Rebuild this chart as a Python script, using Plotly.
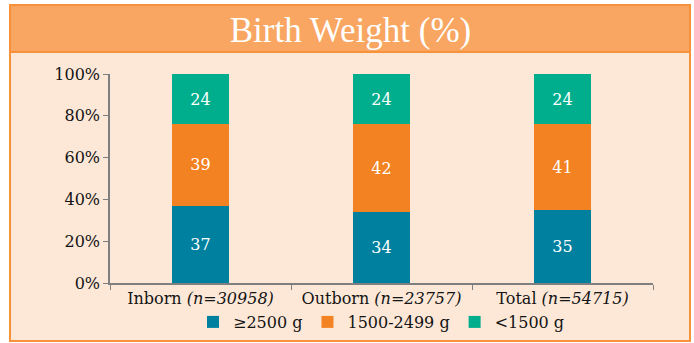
import plotly.graph_objects as go

# Birth weight distribution by place of birth (percent of babies)
categories = ["Inborn <i>(n=30958)</i>", "Outborn <i>(n=23757)</i>", "Total <i>(n=54715)</i>"]
series_names = ["≥2500 g", "1500-2499 g", "<1500 g"]
pct_ge2500 = [37, 34, 35]
pct_1500_2499 = [39, 42, 41]
pct_lt1500 = [24, 24, 24]
y_ticks = [0, 20, 40, 60, 80, 100]
y_tick_labels = ["0%", "20%", "40%", "60%", "80%", "100%"]

colors = ["#00809F", "#F38222", "#00AE8E"]
FONT = "DejaVu Serif"
TITLE_FONT = "Liberation Serif"

W, H = 694, 343

fig = go.Figure()
for name, vals, col in zip(series_names, [pct_ge2500, pct_1500_2499, pct_lt1500], colors):
    fig.add_trace(go.Bar(
        name=name, x=categories, y=vals,
        marker=dict(color=col, line=dict(width=0)),
        text=[str(v) for v in vals], textposition="inside",
        insidetextanchor="middle", constraintext="none",
        textfont=dict(color="white", size=16, family=FONT),
        width=0.32,
    ))

# outer frame and title band
fig.add_shape(type="rect", xref="paper", yref="paper",
              x0=(10 - 110) / 543, x1=(690 - 110) / 543,
              y0=(283 - 341) / 209, y1=(283 - 5) / 209,
              fillcolor="#FDE8D8", line=dict(color="#F7923A", width=2), layer="below")
fig.add_shape(type="rect", xref="paper", yref="paper",
              x0=(10 - 110) / 543, x1=(690 - 110) / 543,
              y0=(283 - 52) / 209, y1=(283 - 5) / 209,
              fillcolor="#F8A661", line=dict(color="#F7923A", width=2), layer="below")

fig.update_layout(
    width=W, height=H,
    margin=dict(l=110, r=41, t=74, b=60, autoexpand=False),
    paper_bgcolor="white", plot_bgcolor="rgba(0,0,0,0)",
    barmode="stack",
    font=dict(family=FONT, size=16, color="#141414"),
    title=dict(text="Birth Weight (%)", x=0.505, xanchor="center", y=1 - 30 / H, yanchor="middle",
               font=dict(family=TITLE_FONT, size=35, color="white")),
    showlegend=True,
    legend=dict(orientation="h", x=0.5, xanchor="center", yref="container",
                y=(H - 322) / H, yanchor="middle",
                font=dict(family=FONT, size=16), bgcolor="rgba(0,0,0,0)",
                traceorder="normal", itemwidth=30),
    xaxis=dict(showline=True, linecolor="#7f7f7f", linewidth=1.5, ticks="outside",
               tickson="boundaries", ticklen=5, tickcolor="#7f7f7f", showgrid=False,
               tickfont=dict(family=FONT, size=16)),
    yaxis=dict(range=[0, 100], tickvals=y_ticks, ticktext=y_tick_labels,
               showline=True, linecolor="#7f7f7f", linewidth=1.5, ticks="outside",
               ticklen=5, tickcolor="#7f7f7f", showgrid=False, zeroline=False,
               tickfont=dict(family=FONT, size=16)),
)

fig.write_html("out.html")
